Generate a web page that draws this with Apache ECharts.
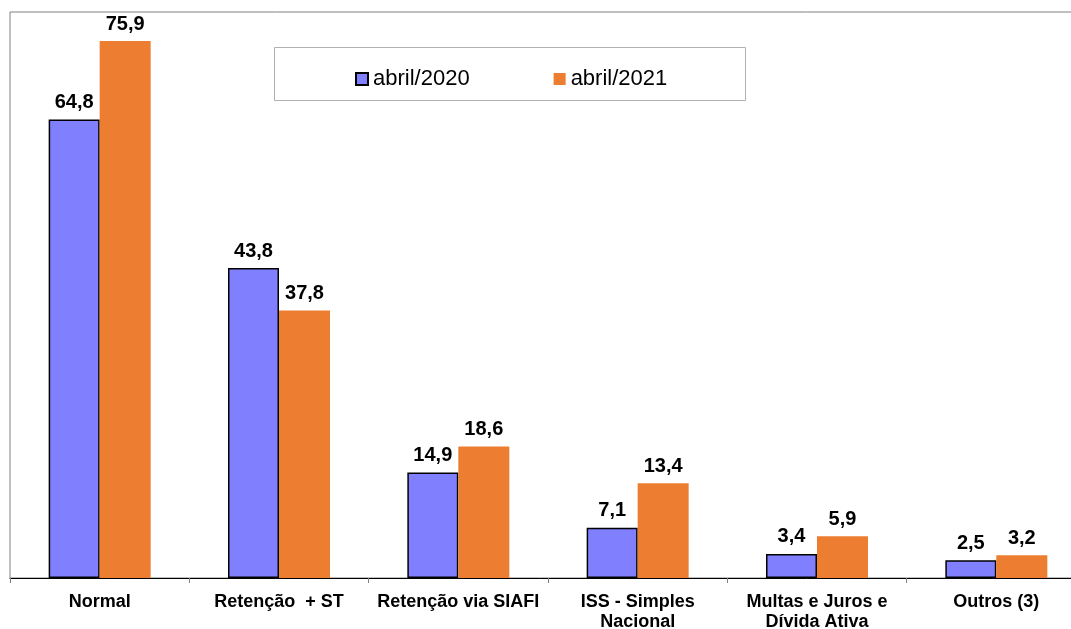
<!DOCTYPE html>
<html>
<head>
<meta charset="utf-8">
<script src="https://cdn.jsdelivr.net/npm/echarts@6/dist/echarts.min.js"></script>
<style>
  html, body { margin: 0; padding: 0; background: #fff; }
  #chart { width: 1071px; height: 629px; }
</style>
</head>
<body>
<div id="chart"></div>
<script>
const categories = ['Normal', 'Retenção  + ST', 'Retenção via SIAFI', 'ISS - Simples\nNacional', 'Multas e Juros e\nDívida Ativa', 'Outros (3)']
const seriesNames = ['abril/2020', 'abril/2021']
const values2020 = [64.8, 43.8, 14.9, 7.1, 3.4, 2.5]
const values2021 = [75.9, 37.8, 18.6, 13.4, 5.9, 3.2]

const font = 'Arial, "Liberation Sans", sans-serif'

const valueLabel = {
    show: true,
    position: 'top',
    distance: 7,
    color: '#000',
    fontFamily: font,
    fontWeight: 'bold',
    fontSize: 20,
    formatter: p => p.value.toFixed(1).replace('.', ',')
}

let myChart = echarts.init(document.getElementById('chart'))
myChart.setOption({
    animation: false,
    backgroundColor: '#fff',
    grid: {
        left: 10,
        top: 12,
        width: 1076,
        height: 566,
        outerBoundsMode: 'none',
        show: true,
        borderColor: '#808080',
        borderWidth: 1
    },
    graphic: [{
        type: 'rect',
        shape: { x: 274.5, y: 47.5, width: 471, height: 53 },
        style: { fill: '#fff', stroke: '#b0b0b0', lineWidth: 1 }
    }],
    legend: {
        left: 350,
        top: 63,
        itemWidth: 12,
        itemHeight: 12,
        itemGap: 84,
        icon: 'rect',
        textStyle: { fontFamily: font, fontSize: 22, color: '#000', lineHeight: 22 },
        data: seriesNames
    },
    xAxis: {
        type: 'category',
        data: categories,
        axisLine: { lineStyle: { color: '#000', width: 1 } },
        axisTick: { show: true, length: 5, lineStyle: { color: '#808080' } },
        axisLabel: {
            margin: 14,
            color: '#000',
            fontFamily: font,
            fontWeight: 'bold',
            fontSize: 18,
            lineHeight: 20,
            interval: 0
        }
    },
    yAxis: {
        type: 'value',
        min: 0,
        max: 80,
        show: false,
        splitLine: { show: false }
    },
    series: [{
        name: seriesNames[0],
        type: 'bar',
        data: values2020,
        barWidth: 51,
        barGap: '0%',
        itemStyle: { color: '#8080FF', borderColor: '#000', borderWidth: 1.5 },
        label: valueLabel
    }, {
        name: seriesNames[1],
        type: 'bar',
        data: values2021,
        barWidth: 51,
        itemStyle: { color: '#ED7D31' },
        label: valueLabel
    }]
})
</script>
</body>
</html>
